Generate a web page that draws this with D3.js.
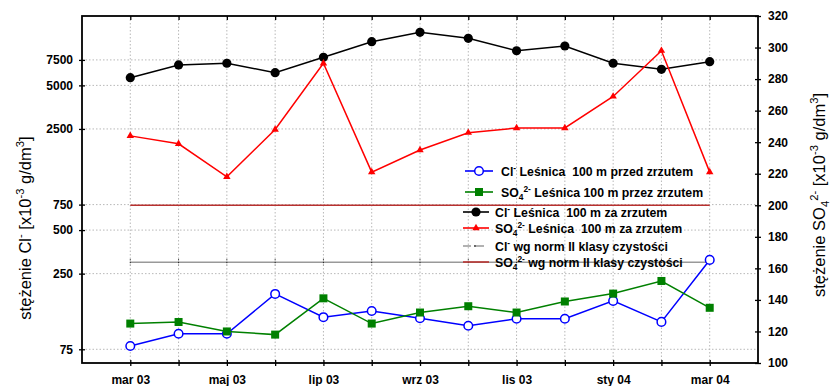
<!DOCTYPE html>
<html>
<head>
<meta charset="utf-8">
<script src="https://cdn.jsdelivr.net/npm/d3@7"></script>
<style>
  body { margin: 0; background: #fff; }
  svg { display: block; font-family: "Liberation Sans", Arial, sans-serif; }
  text { white-space: pre; }
</style>
</head>
<body>
<svg id="chart" width="831" height="386"></svg>
<script>
// Monthly samples, March 2003 – March 2004
const months = ["mar 03", "kwi 03", "maj 03", "cze 03", "lip 03", "sie 03", "wrz 03",
                "paź 03", "lis 03", "gru 03", "sty 04", "lut 04", "mar 04"];
const labelledMonths = ["mar 03", "maj 03", "lip 03", "wrz 03", "lis 03", "sty 04", "mar 04"];

// Cl- [x10^-3 g/dm3], left (log) axis
const clBefore = [79, 96, 96, 181, 125, 138, 123, 109, 122, 122, 162, 116, 311];
const clAfter  = [5650, 6920, 7110, 6120, 7820, 10020, 11640, 10580, 8680, 9360, 7110, 6460, 7290];
// SO4 2- [x10^-3 g/dm3], right (linear) axis
const so4Before = [125, 126, 120, 118, 141, 125, 132, 136, 132, 139, 144, 152, 135];
const so4After  = [244, 239, 218, 248, 290, 221, 235, 246, 249, 249, 269, 298, 221];

// Class II water-quality limits
const clNorm = 300;
const so4Norm = 200;

const leftTicks = [75, 250, 500, 750, 2500, 5000, 7500];
const rightTicks = [100, 120, 140, 160, 180, 200, 220, 240, 260, 280, 300, 320];

const P = { left: 82, right: 758, top: 16, bottom: 363 };
const svg = d3.select("#chart");

const x = d3.scalePoint().domain(months).range([P.left, P.right]).padding(1);
const yL = d3.scaleLog().domain([60.3, 15085]).range([P.bottom, P.top]);
const yR = d3.scaleLinear().domain([100, 320]).range([P.bottom, P.top]);

// grid
const grid = svg.append("g").attr("stroke", "#b8b8b8").attr("stroke-width", 1)
  .attr("stroke-dasharray", "1.5,2");
grid.selectAll("line.v").data(months).join("line")
  .attr("x1", d => x(d)).attr("x2", d => x(d))
  .attr("y1", P.top).attr("y2", P.bottom);
grid.selectAll("line.h").data(leftTicks).join("line")
  .attr("x1", P.left).attr("x2", P.right)
  .attr("y1", d => yL(d)).attr("y2", d => yL(d));

// norm lines
const xFirst = x(months[0]), xLast = x(months[months.length - 1]);
svg.append("line").attr("x1", xFirst).attr("x2", xLast)
  .attr("y1", yR(so4Norm)).attr("y2", yR(so4Norm))
  .attr("stroke", "#b8312f").attr("stroke-width", 1.6);
svg.append("line").attr("x1", xFirst).attr("x2", xLast)
  .attr("y1", yL(clNorm)).attr("y2", yL(clNorm))
  .attr("stroke", "#999").attr("stroke-width", 1.6);
svg.append("g").selectAll("line").data(months).join("line")
  .attr("x1", d => x(d)).attr("x2", d => x(d))
  .attr("y1", yL(clNorm) - 3).attr("y2", yL(clNorm) + 3)
  .attr("stroke", "#222").attr("stroke-width", 1).attr("stroke-dasharray", "1.2,1.6");

// series
function series(values, y, color, marker) {
  const pts = values.map((v, i) => [x(months[i]), y(v)]);
  svg.append("path").attr("d", d3.line()(pts))
    .attr("fill", "none").attr("stroke", color).attr("stroke-width", 1.5);
  const g = svg.append("g");
  pts.forEach(p => marker(g, p[0], p[1], color));
}
const openCircle = (g, cx, cy, c) => g.append("circle").attr("cx", cx).attr("cy", cy).attr("r", 4.3)
  .attr("fill", "#fff").attr("stroke", c).attr("stroke-width", 1.5);
const dot = (g, cx, cy, c) => g.append("circle").attr("cx", cx).attr("cy", cy).attr("r", 4.6).attr("fill", c);
const square = (g, cx, cy, c) => g.append("rect").attr("x", cx - 4).attr("y", cy - 4)
  .attr("width", 8).attr("height", 8).attr("fill", c);
const triangle = (g, cx, cy, c) => g.append("path")
  .attr("d", d3.symbol().type(d3.symbolTriangle).size(24)())
  .attr("transform", `translate(${cx},${cy})`).attr("fill", c);

series(clBefore, yL, "#0000ff", openCircle);
series(so4Before, yR, "#008000", square);
series(clAfter, yL, "#000000", dot);
series(so4After, yR, "#ff0000", triangle);

// frame
svg.append("rect").attr("x", P.left).attr("y", P.top)
  .attr("width", P.right - P.left).attr("height", P.bottom - P.top)
  .attr("fill", "none").attr("stroke", "#000").attr("stroke-width", 1.8);

// axes
const tickFont = g => g.selectAll("text").attr("font-size", 12).attr("font-weight", "bold")
  .attr("fill", "#000").attr("font-family", "Liberation Sans, Arial, sans-serif");

const axisBottomG = svg.append("g").attr("transform", `translate(0,${P.bottom})`)
  .call(d3.axisBottom(x).tickSize(3).tickPadding(9)
    .tickFormat(d => labelledMonths.includes(d) ? d : ""));
axisBottomG.select(".domain").remove();
axisBottomG.selectAll(".tick line").attr("y1", -3).attr("stroke-width", 1.3);
axisBottomG.call(tickFont);

const axisTopG = svg.append("g").attr("transform", `translate(0,${P.top})`)
  .call(d3.axisBottom(x).tickSize(4).tickFormat(""));
axisTopG.select(".domain").remove();
axisTopG.selectAll(".tick line").attr("stroke-width", 1.3);

const axisLeftG = svg.append("g").attr("transform", `translate(${P.left},0)`)
  .call(d3.axisLeft(yL).tickValues(leftTicks).tickFormat(d3.format("d")).tickSize(3).tickPadding(6));
axisLeftG.select(".domain").remove();
axisLeftG.selectAll(".tick line").attr("x2", -3).attr("x1", 3).attr("stroke-width", 1.3);
axisLeftG.call(tickFont);

const axisRightG = svg.append("g").attr("transform", `translate(${P.right},0)`)
  .call(d3.axisRight(yR).tickValues(rightTicks).tickSize(3).tickPadding(7));
axisRightG.select(".domain").remove();
axisRightG.selectAll(".tick line").attr("x1", -3).attr("stroke-width", 1.3);
axisRightG.call(tickFont);

// rich text helper: parts are [text, "sup"|"sub"|null]
function rich(sel, parts, size) {
  let shift = 0;
  parts.forEach(([t, kind]) => {
    const target = kind === "sup" ? -0.4 * size : kind === "sub" ? 0.25 * size : 0;
    sel.append("tspan").attr("dy", target - shift)
      .attr("font-size", kind ? size * 0.68 : size).text(t);
    shift = target;
  });
}

// axis titles
const tL = svg.append("text").attr("transform", "translate(31,228) rotate(-90)")
  .attr("text-anchor", "middle").attr("fill", "#000");
rich(tL, [["stężenie Cl"], ["-", "sup"], [" [x10"], ["-3", "sup"], [" g/dm"], ["3", "sup"], ["]"]], 16.5);

const tR = svg.append("text").attr("transform", "translate(825,195) rotate(-90)")
  .attr("text-anchor", "middle").attr("fill", "#000");
rich(tR, [["stężenie SO"], ["4", "sub"], ["2-", "sup"], [" [x10"], ["-3", "sup"], [" g/dm"], ["3", "sup"], ["]"]], 16.5);

// legend
const legendRows = [
  { y: 171, x0: 465, x1: 493, tx: 501, color: "#0000ff", marker: openCircle,
    parts: [["Cl"], ["-", "sup"], [" Leśnica  100 m przed zrzutem"]] },
  { y: 192, x0: 465, x1: 493, tx: 501, color: "#008000", marker: square,
    parts: [["SO"], ["4", "sub"], ["2-", "sup"], [" Leśnica 100 m przez zrzutem"]] },
  { y: 212, x0: 463, x1: 489, tx: 495, color: "#000000", marker: dot,
    parts: [["Cl"], ["-", "sup"], [" Leśnica  100 m za zrzutem"]] },
  { y: 228, x0: 463, x1: 489, tx: 495, color: "#ff0000", marker: triangle,
    parts: [["SO"], ["4", "sub"], ["2-", "sup"], [" Leśnica  100 m za zrzutem"]] },
  { y: 246, x0: 463, x1: 489, tx: 495, color: "#999", marker: null, dashed: true,
    parts: [["Cl"], ["-", "sup"], [" wg norm II klasy czystości"]] },
  { y: 262, x0: 463, x1: 489, tx: 495, color: "#b8312f", marker: null,
    parts: [["SO"], ["4", "sub"], ["2-", "sup"], [" wg norm II klasy czystości"]] }
];
const lg = svg.append("g");
legendRows.forEach(r => {
  const ln = lg.append("line").attr("x1", r.x0).attr("x2", r.x1).attr("y1", r.y).attr("y2", r.y)
    .attr("stroke", r.color).attr("stroke-width", 1.6);
  if (r.dashed) {
    ln.attr("stroke-dasharray", "8,5");
    lg.append("circle").attr("cx", (r.x0 + r.x1) / 2 - 1).attr("cy", r.y).attr("r", 0.9).attr("fill", "#222");
  }
  if (r.marker) r.marker(lg, (r.x0 + r.x1) / 2, r.y, r.color);
  const t = lg.append("text").attr("x", r.tx).attr("y", r.y + 4.5)
    .attr("font-weight", "bold").attr("fill", "#000");
  rich(t, r.parts, 12.3);
});
</script>
</body>
</html>
